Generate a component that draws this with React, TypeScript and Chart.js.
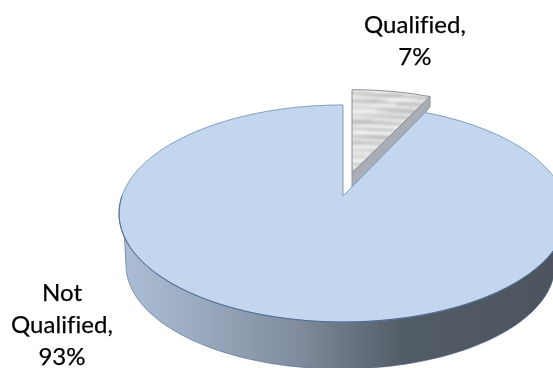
import React, { useEffect, useRef } from "react";
import { Chart, registerables } from "chart.js";

Chart.register(...registerables);

const categories = ["Qualified", "Not Qualified"];
const shares = [7, 93];

// Tilted disc: unit-circle points go through a small perspective divide.
const DISC = { cx: 343, cy: 196, a: 221, b: 105.7, k: 0.161 };
const BASE = { cx: 340.5, cy: 265, rx: 214.5, ry: 104 };
const EXPLODE = { dx: 9, dy: -23, sx: 0.95, sy: 0.915 };
const LABEL_ANCHORS = [
  { x: 415, y: 33 },
  { x: 62, y: 301 },
];
const LINE_GAP = 32;

type Pt = [number, number];

function project(angle: number): Pt {
  const u = Math.cos(angle);
  const v = -Math.sin(angle);
  const w = 1 + DISC.k * v;
  return [(DISC.a * u) / w, (-DISC.b * v) / w];
}

function sliceOutline(start: number, end: number): Pt[] {
  const pts: Pt[] = [[0, 0]];
  const steps = Math.max(6, Math.ceil((end - start) * 60));
  for (let i = 0; i <= steps; i++) pts.push(project(start + ((end - start) * i) / steps));
  return pts;
}

function tracePath(ctx: CanvasRenderingContext2D, pts: Pt[], close = true) {
  ctx.beginPath();
  pts.forEach(([x, y], i) => (i ? ctx.lineTo(x, y) : ctx.moveTo(x, y)));
  if (close) ctx.closePath();
}

// Marbled fill of the pulled-out wedge: soft horizontal streaks clipped to its face.
function drawStreaks(ctx: CanvasRenderingContext2D, pts: Pt[]) {
  ctx.save();
  tracePath(ctx, pts);
  ctx.clip();
  ctx.fillStyle = "#e0e0df";
  ctx.fillRect(-5, -95, 100, 105);
  ctx.filter = "blur(1.6px)";
  for (let i = 0; i < 130; i++) {
    const x = (i * 37) % 95;
    const y = -92 + ((i * 53) % 100);
    const w = 12 + ((i * 13) % 24);
    const h = 0.8 + (i % 3) * 0.6;
    ctx.fillStyle = i % 2 ? "rgba(165,165,165,0.42)" : "rgba(250,250,250,0.6)";
    ctx.beginPath();
    ctx.ellipse(x, y, w, h, 0, 0, Math.PI * 2);
    ctx.fill();
  }
  ctx.restore();
}

const pie3d = {
  id: "pie3d",
  beforeDatasetsDraw(chart: Chart) {
    const ctx = chart.ctx;
    const [wedge, body] = chart.getDatasetMeta(0).data as any[];

    // Pulled-out wedge: cut wall first, then its face.
    ctx.save();
    ctx.translate(DISC.cx + EXPLODE.dx, DISC.cy + EXPLODE.dy);
    ctx.scale(EXPLODE.sx, EXPLODE.sy);
    const wedgePts = sliceOutline(wedge.startAngle, wedge.endAngle);
    const tip = wedgePts[wedgePts.length - 1];
    tracePath(ctx, [[0, 0], tip, [tip[0], tip[1] + 11], [tip[0] - 7, tip[1] + 20], [0, 20]]);
    ctx.fillStyle = "#a9aeb5";
    ctx.fill();
    ctx.strokeStyle = "#87919f";
    ctx.lineWidth = 1;
    ctx.stroke();
    drawStreaks(ctx, wedgePts);
    tracePath(ctx, wedgePts);
    ctx.strokeStyle = "#7f8897";
    ctx.stroke();
    ctx.restore();

    // Side wall of the large slice, front half of the rim down to the base ellipse.
    const wallPts: Pt[] = [];
    for (let i = 0; i <= 120; i++) {
      const p = project(Math.PI - (Math.PI * i) / 120);
      wallPts.push([p[0] + DISC.cx, p[1] + DISC.cy]);
    }
    for (let i = 0; i <= 120; i++) {
      const t = (Math.PI * i) / 120;
      wallPts.push([BASE.cx + BASE.rx * Math.cos(t), BASE.cy + BASE.ry * Math.sin(t)]);
    }
    const shade = ctx.createLinearGradient(119, 0, 553, 0);
    shade.addColorStop(0, "#adbfd7");
    shade.addColorStop(0.2, "#98a8bd");
    shade.addColorStop(0.42, "#7f8b9b");
    shade.addColorStop(0.52, "#6c7683");
    shade.addColorStop(0.66, "#525c67");
    shade.addColorStop(1, "#4c545e");
    tracePath(ctx, wallPts);
    ctx.fillStyle = shade;
    ctx.fill();
    ctx.strokeStyle = "rgba(72,100,140,0.6)";
    ctx.lineWidth = 1;
    ctx.stroke();

    // Top face of the large slice.
    ctx.save();
    ctx.translate(DISC.cx, DISC.cy);
    const bodyPts = sliceOutline(body.startAngle, body.endAngle);
    tracePath(ctx, bodyPts);
    ctx.fillStyle = "#c3d6ee";
    ctx.fill();
    ctx.strokeStyle = "#7f9cc0";
    ctx.stroke();
    const rim: Pt[] = [];
    for (let i = 0; i <= 120; i++) rim.push(project(Math.PI - (Math.PI * i) / 120));
    tracePath(ctx, rim, false);
    ctx.strokeStyle = "rgba(52,84,130,0.7)";
    ctx.stroke();
    ctx.restore();

    // Data labels: wrapped category name, then the share.
    ctx.fillStyle = "#000000";
    ctx.strokeStyle = "#000000";
    ctx.lineWidth = 0.25;
    ctx.font = '24px Lato, "Open Sans", sans-serif';
    (ctx as any).letterSpacing = "0.05px"; // keeps "fi" as two separate glyphs
    ctx.textBaseline = "alphabetic";
    ctx.textAlign = "center";
    categories.forEach((name, i) => {
      const words = name.split(" ");
      words[words.length - 1] += ",";
      [...words, `${shares[i]}%`].forEach((line, j) => {
        const y = LABEL_ANCHORS[i].y + j * LINE_GAP;
        ctx.fillText(line, LABEL_ANCHORS[i].x, y);
        ctx.strokeText(line, LABEL_ANCHORS[i].x, y);
      });
    });
    return false;
  },
};

export default function App() {
  const ref = useRef<HTMLCanvasElement>(null);

  useEffect(() => {
    const chart = new Chart(ref.current!, {
      type: "pie",
      data: {
        labels: categories,
        datasets: [{ data: shares, backgroundColor: ["#e0e0df", "#c3d6ee"], borderWidth: 0 }],
      },
      options: {
        responsive: false,
        animation: false,
        plugins: { legend: { display: false }, tooltip: { enabled: false } },
      },
      plugins: [pie3d],
    });
    return () => chart.destroy();
  }, []);

  return (
    <div style={{ position: "absolute", left: 0, top: 0, width: 553, height: 368, overflow: "hidden", background: "#fff" }}>
      <canvas ref={ref} width={553} height={368} style={{ display: "block" }} />
    </div>
  );
}
